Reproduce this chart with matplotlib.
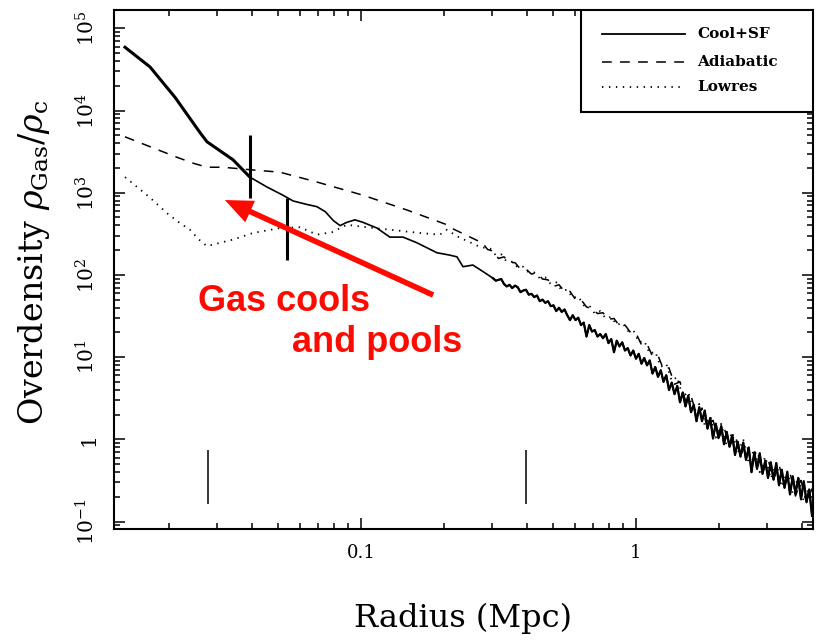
import numpy as np
import matplotlib
matplotlib.use("Agg")
import matplotlib.pyplot as plt
from matplotlib.ticker import LogLocator, NullFormatter
from matplotlib.patches import Rectangle
from matplotlib.lines import Line2D

plt.rcParams['font.family'] = ['DejaVu Serif']
plt.rcParams['mathtext.fontset'] = 'dejavuserif'
plt.rcParams['lines.scale_dashes'] = False

# ---- profiles: log10 radius [Mpc] and log10 gas overdensity ----
cool_log_r = [
    -1.858, -1.767, -1.676, -1.585, -1.560, -1.465, -1.404, -1.342, -1.284, -1.247,
    -1.200, -1.160, -1.130, -1.100, -1.076, -1.051, -1.022, -0.993, -0.942, -0.895,
    -0.847, -0.796, -0.760, -0.724, -0.676, -0.651, -0.629, -0.593, -0.556,
    -0.52, -0.51, -0.50, -0.49, -0.48, -0.47, -0.46, -0.45, -0.44, -0.43,
    -0.42, -0.41, -0.40, -0.39, -0.38, -0.37, -0.36, -0.35, -0.34, -0.33,
    -0.32, -0.31, -0.30, -0.29, -0.28, -0.27, -0.26, -0.25, -0.24, -0.23,
    -0.22, -0.21, -0.20, -0.19, -0.18, -0.17, -0.16, -0.15, -0.14, -0.13,
    -0.12, -0.11, -0.10, -0.09, -0.08, -0.07, -0.06, -0.05, -0.04, -0.03,
    -0.02, -0.01, 0.00, 0.01, 0.02, 0.03, 0.04, 0.05, 0.06, 0.07,
    0.08, 0.09, 0.10, 0.11, 0.12, 0.13, 0.14, 0.15, 0.16, 0.17,
    0.18, 0.19, 0.20, 0.21, 0.22, 0.23, 0.24, 0.25, 0.26, 0.27,
    0.28, 0.29, 0.30, 0.31, 0.32, 0.33, 0.34, 0.35, 0.36, 0.37,
    0.38, 0.39, 0.40, 0.41, 0.42, 0.43, 0.44, 0.45, 0.46, 0.47,
    0.48, 0.49, 0.50, 0.51, 0.52, 0.53, 0.54, 0.55, 0.56, 0.57,
    0.58, 0.59, 0.60, 0.61, 0.62, 0.63, 0.64,
]
cool_log_od = [
    4.77, 4.53, 4.16, 3.73, 3.62, 3.40, 3.19, 3.07, 2.97, 2.90,
    2.86, 2.83, 2.77, 2.66, 2.60, 2.64, 2.67, 2.64, 2.57, 2.46,
    2.46, 2.39, 2.33, 2.27, 2.24, 2.22, 2.10, 2.12, 2.04,
    1.96, 1.93, 1.94, 1.95, 1.89, 1.86, 1.88, 1.84, 1.87, 1.85,
    1.79, 1.81, 1.82, 1.76, 1.77, 1.73, 1.75, 1.68, 1.70, 1.66,
    1.68, 1.62, 1.63, 1.56, 1.60, 1.55, 1.58, 1.51, 1.45, 1.51,
    1.45, 1.48, 1.39, 1.42, 1.25, 1.39, 1.31, 1.33, 1.25, 1.28,
    1.23, 1.28, 1.17, 1.22, 1.06, 1.20, 1.13, 1.18, 1.08, 1.11,
    1.02, 1.08, 0.98, 1.04, 0.92, 0.99, 0.90, 0.96, 0.80, 0.88,
    0.76, 0.84, 0.70, 0.78, 0.60, 0.69, 0.55, 0.65, 0.45, 0.57,
    0.40, 0.53, 0.33, 0.42, 0.22, 0.39, 0.22, 0.35, 0.13, 0.26,
    0.01, 0.19, 0.02, 0.16, -0.06, 0.09, -0.09, 0.05, -0.19, -0.03,
    -0.21, -0.04, -0.25, -0.10, -0.40, -0.16, -0.36, -0.17, -0.42, -0.26,
    -0.47, -0.28, -0.49, -0.29, -0.56, -0.37, -0.59, -0.40, -0.67, -0.45,
    -0.66, -0.47, -0.73, -0.51, -0.76, -0.61, -0.93,
]
# number of innermost points drawn with the heavier stroke
cool_core_n = 7
# index where the noisy outer part of the profile starts
cool_outer_i = 29

adiab_log_r = [
    -1.858, -1.767, -1.676, -1.611, -1.560, -1.502, -1.404, -1.295, -1.160, -0.993,
    -0.833, -0.687, -0.665, -0.578,
    -0.56, -0.54, -0.52, -0.50, -0.48, -0.46, -0.44, -0.42, -0.40, -0.38,
    -0.36, -0.34, -0.32, -0.30, -0.28, -0.26, -0.24, -0.22, -0.20, -0.18,
    -0.16, -0.14, -0.12, -0.10, -0.08, -0.06, -0.04, -0.02, 0.00, 0.02,
    0.04, 0.06, 0.08, 0.10, 0.12, 0.14, 0.16, 0.18, 0.20, 0.22,
    0.24, 0.26, 0.28, 0.30, 0.32, 0.34, 0.36, 0.38, 0.40, 0.42,
    0.44, 0.46, 0.48, 0.50, 0.52, 0.54, 0.56, 0.58, 0.60, 0.62,
    0.64,
]
adiab_log_od = [
    3.68, 3.56, 3.44, 3.36, 3.31, 3.31, 3.28, 3.25, 3.13, 2.97,
    2.79, 2.61, 2.56, 2.42,
    2.40, 2.31, 2.29, 2.20, 2.22, 2.15, 2.15, 2.07, 2.07, 2.01,
    2.03, 1.95, 1.94, 1.86, 1.88, 1.80, 1.80, 1.70, 1.70, 1.61,
    1.59, 1.53, 1.54, 1.46, 1.47, 1.38, 1.39, 1.30, 1.29, 1.15,
    1.16, 1.01, 1.02, 0.85, 0.87, 0.67, 0.70, 0.47, 0.53, 0.30,
    0.38, 0.14, 0.23, 0.01, 0.15, -0.09, 0.06, -0.20, -0.04, -0.29,
    -0.13, -0.41, -0.24, -0.49, -0.31, -0.57, -0.41, -0.69, -0.50, -0.77,
    -0.60,
]

lowres_log_r = [
    -1.858, -1.767, -1.705, -1.658, -1.622, -1.589, -1.560, -1.513, -1.465, -1.393,
    -1.295, -1.222, -1.160, -1.105, -1.051, -0.978, -0.895, -0.785, -0.713, -0.687,
    -0.651, -0.567,
    -0.55, -0.53, -0.51, -0.49, -0.47, -0.45, -0.43, -0.41, -0.39, -0.37,
    -0.35, -0.33, -0.31, -0.29, -0.27, -0.25, -0.23, -0.21, -0.19, -0.17,
    -0.15, -0.13, -0.11, -0.09, -0.07, -0.05, -0.03, -0.01, 0.01, 0.03,
    0.05, 0.07, 0.09, 0.11, 0.13, 0.15, 0.17, 0.19, 0.21, 0.23,
    0.25, 0.27, 0.29, 0.31, 0.33, 0.35, 0.37, 0.39, 0.41, 0.43,
    0.45, 0.47, 0.49, 0.51, 0.53, 0.55, 0.57, 0.59, 0.61, 0.63,
]
lowres_log_od = [
    3.19, 2.94, 2.75, 2.63, 2.55, 2.43, 2.35, 2.39, 2.43, 2.51,
    2.57, 2.58, 2.49, 2.52, 2.61, 2.58, 2.55, 2.51, 2.49, 2.55,
    2.47, 2.34,
    2.33, 2.32, 2.24, 2.25, 2.16, 2.16, 2.09, 2.10, 2.03, 2.03,
    1.96, 1.97, 1.89, 1.91, 1.81, 1.82, 1.72, 1.74, 1.63, 1.63,
    1.53, 1.56, 1.47, 1.49, 1.39, 1.42, 1.32, 1.33, 1.18, 1.20,
    1.04, 1.07, 0.88, 0.92, 0.71, 0.76, 0.51, 0.58, 0.33, 0.43,
    0.17, 0.28, 0.02, 0.19, -0.08, 0.09, -0.17, 0.00, -0.29, -0.12,
    -0.40, -0.21, -0.48, -0.29, -0.58, -0.39, -0.66, -0.46, -0.76, -0.57,
]

# vertical marker bars (radius, lower and upper overdensity)
core_bar_r = [0.0395, 0.0538]
core_bar_lo = [863, 152]
core_bar_hi = [5000, 863]
scale_bar_r = [0.0278, 0.398]
scale_bar_lo = [0.163, 0.163]
scale_bar_hi = [0.74, 0.74]

# annotation arrow (tail -> head) in data units
arrow_tail = (0.183, 56.9)
arrow_head = (0.032, 815.0)

series_names = ["Cool+SF", "Adiabatic", "Lowres"]
x_tick_vals = [0.1, 1]
x_tick_labels = ["0.1", "1"]
y_tick_vals = [0.1, 1, 10, 100, 1e3, 1e4, 1e5]
y_tick_labels = [r"$10^{-1}$", "1", r"$10^{1}$", r"$10^{2}$", r"$10^{3}$",
                 r"$10^{4}$", r"$10^{5}$"]

W, H = 817, 642
fig = plt.figure(figsize=(W / 100, H / 100), dpi=100)
fig.patch.set_facecolor("white")

ax_l, ax_r, ax_t, ax_b = 114, 812.7, 9.5, 529
ax = fig.add_axes([ax_l / W, (H - ax_b) / H, (ax_r - ax_l) / W, (ax_b - ax_t) / H])
ax.set_xscale("log")
ax.set_yscale("log")
ax.set_xlim(10 ** -1.898, 10 ** 0.6425)
ax.set_ylim(10 ** -1.091, 10 ** 5.229)

styles = {
    "Cool+SF": dict(color="black", lw=1.2, linestyle="-"),
    "Adiabatic": dict(color="black", lw=1.1, dashes=(7, 6)),
    "Lowres": dict(color="black", lw=1.3, dashes=(1.0, 4.0)),
}

cr = 10 ** np.asarray(cool_log_r)
co = 10 ** np.asarray(cool_log_od)
ax.plot(cr, co, **styles["Cool+SF"])
ax.plot(cr[:cool_core_n], co[:cool_core_n], color="black", lw=2.2)
ax.plot(cr[cool_outer_i:], co[cool_outer_i:], color="black", lw=1.6)
ax.plot(10 ** np.asarray(adiab_log_r), 10 ** np.asarray(adiab_log_od), **styles["Adiabatic"])
ax.plot(10 ** np.asarray(lowres_log_r), 10 ** np.asarray(lowres_log_od), **styles["Lowres"])

ax.vlines(core_bar_r, core_bar_lo, core_bar_hi, color="black", lw=2.2)
ax.vlines(scale_bar_r, scale_bar_lo, scale_bar_hi, color="black", lw=1.1)

# ticks
ax.set_xticks(x_tick_vals)
ax.set_xticklabels(x_tick_labels)
ax.set_yticks(y_tick_vals)
ax.set_yticklabels(y_tick_labels, rotation=90, va="center")
ax.xaxis.set_minor_locator(LogLocator(base=10, subs=np.arange(2, 10), numticks=20))
ax.yaxis.set_minor_locator(LogLocator(base=10, subs=np.arange(2, 10), numticks=20))
ax.xaxis.set_minor_formatter(NullFormatter())
ax.yaxis.set_minor_formatter(NullFormatter())
ax.tick_params(which="both", direction="in", top=True, right=True, width=1.1,
               colors="black")
ax.tick_params(which="major", length=8)
ax.tick_params(which="minor", length=4)
ax.tick_params(axis="x", which="major", pad=11, labelsize=13)
ax.tick_params(axis="y", which="major", pad=11, labelsize=14.5)
for sp in ax.spines.values():
    sp.set_linewidth(1.5)

# legend box in the upper-right corner
def ax_x(px):
    return (px - ax_l) / (ax_r - ax_l)

def ax_y(py):
    return (ax_b - py) / (ax_b - ax_t)

ax.add_patch(Rectangle((ax_x(581), ax_y(111.7)), 1 - ax_x(581), 1 - ax_y(111.7),
                       transform=ax.transAxes, facecolor="white", edgecolor="black",
                       lw=1.5, zorder=5))
for name, py in zip(series_names, [34, 62, 87]):
    st = dict(styles[name])
    if name == "Cool+SF":
        st["lw"] = 1.3
    ax.add_line(Line2D([ax_x(602), ax_x(685)], [ax_y(py), ax_y(py)],
                       transform=ax.transAxes, zorder=6, **st))
    ax.text(ax_x(697), ax_y(py), name, transform=ax.transAxes, ha="left",
            va="center", fontsize=11, fontweight="bold", zorder=6)

# red annotation
red = "#fe0a00"
ax.annotate("", xy=arrow_head, xytext=arrow_tail,
            arrowprops=dict(width=4.0, headwidth=17, headlength=20, shrink=0.0,
                            facecolor=red, edgecolor="none"), zorder=7)
fig.text(198 / W, 1 - 311 / H, "Gas cools", color=red, fontsize=26,
         fontweight="bold", family=["Liberation Sans"], ha="left", va="baseline")
fig.text(292 / W, 1 - 352 / H, "and pools", color=red, fontsize=26,
         fontweight="bold", family=["Liberation Sans"], ha="left", va="baseline")

# axis titles
fig.text(463 / W, 1 - 627 / H, "Radius (Mpc)", fontsize=23, ha="center",
         va="baseline")
fig.text(43 / W, 1 - 262 / H, r"Overdensity $\rho_{\rm Gas}/\rho_{\rm c}$",
         fontsize=24, rotation=90, rotation_mode="anchor", ha="center",
         va="baseline")

fig.savefig("out.png", dpi=100, facecolor="white")
